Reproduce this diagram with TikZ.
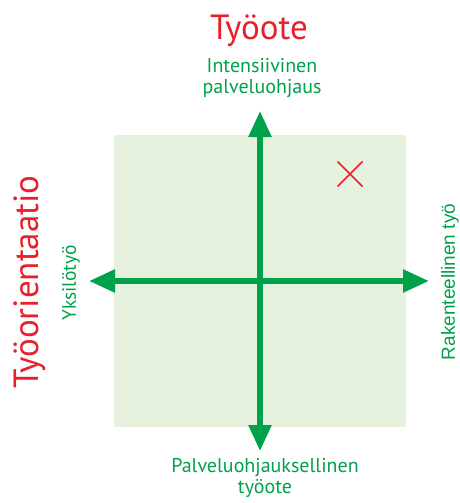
\documentclass[tikz,border=0pt]{standalone}
\usepackage{fontspec}
\setmainfont{PT Sans}
\newfontfamily\arialfont{Liberation Sans}
\usepackage{xcolor}
\usetikzlibrary{arrows.meta,positioning}
\definecolor{axisgreen}{RGB}{0,161,75}
\definecolor{titlered}{RGB}{232,32,42}
\definecolor{fieldgreen}{RGB}{230,242,222}
\begin{document}
\begin{tikzpicture}[x=1pt,y=-1pt,
	axis/.style={line width=5.5pt,axisgreen,{Triangle[length=26pt,width=22pt]}-{Triangle[length=26pt,width=22pt]}},
	title/.style={titlered,inner sep=0pt,font=\fontsize{35}{38}\selectfont},
	pole/.style={axisgreen,align=center,inner sep=0pt,font=\fontsize{20}{21}\selectfont}]
	\useasboundingbox (0,0) rectangle (459,503);
	\fill[fieldgreen] (114,135) rectangle (406,427);
	% axes
	\coordinate (top) at (260,111);
	\coordinate (bottom) at (260,451);
	\coordinate (left) at (89,281);
	\coordinate (right) at (429,281);
	\draw[axis] (bottom)--(top);
	\draw[axis] (left)--(right);
	% mark
	\draw[titlered,line width=1.6pt] (337.5,161.5)--(362.5,186.5) (337.5,186.5)--(362.5,161.5);
	% labels
	\node[title] (work) at (259,31) {Työote};
	\node[title,rotate=90] (orient) at (30,282) {Työorientaatio};
	\node[pole] (intens) at (262,78) {Intensiivinen\\palveluohjaus};
	\node[pole] (service) at (265,478) {Palveluohjauksellinen\\työote};
	\node[pole,rotate=90,font=\fontsize{19.5}{20}\selectfont] (single) at (71,283) {Yksilötyö};
	\node[pole,rotate=90,font=\arialfont\fontsize{19}{20}\selectfont] (struct) at (450,282) {Rakenteellinen työ};
\end{tikzpicture}
\end{document}
